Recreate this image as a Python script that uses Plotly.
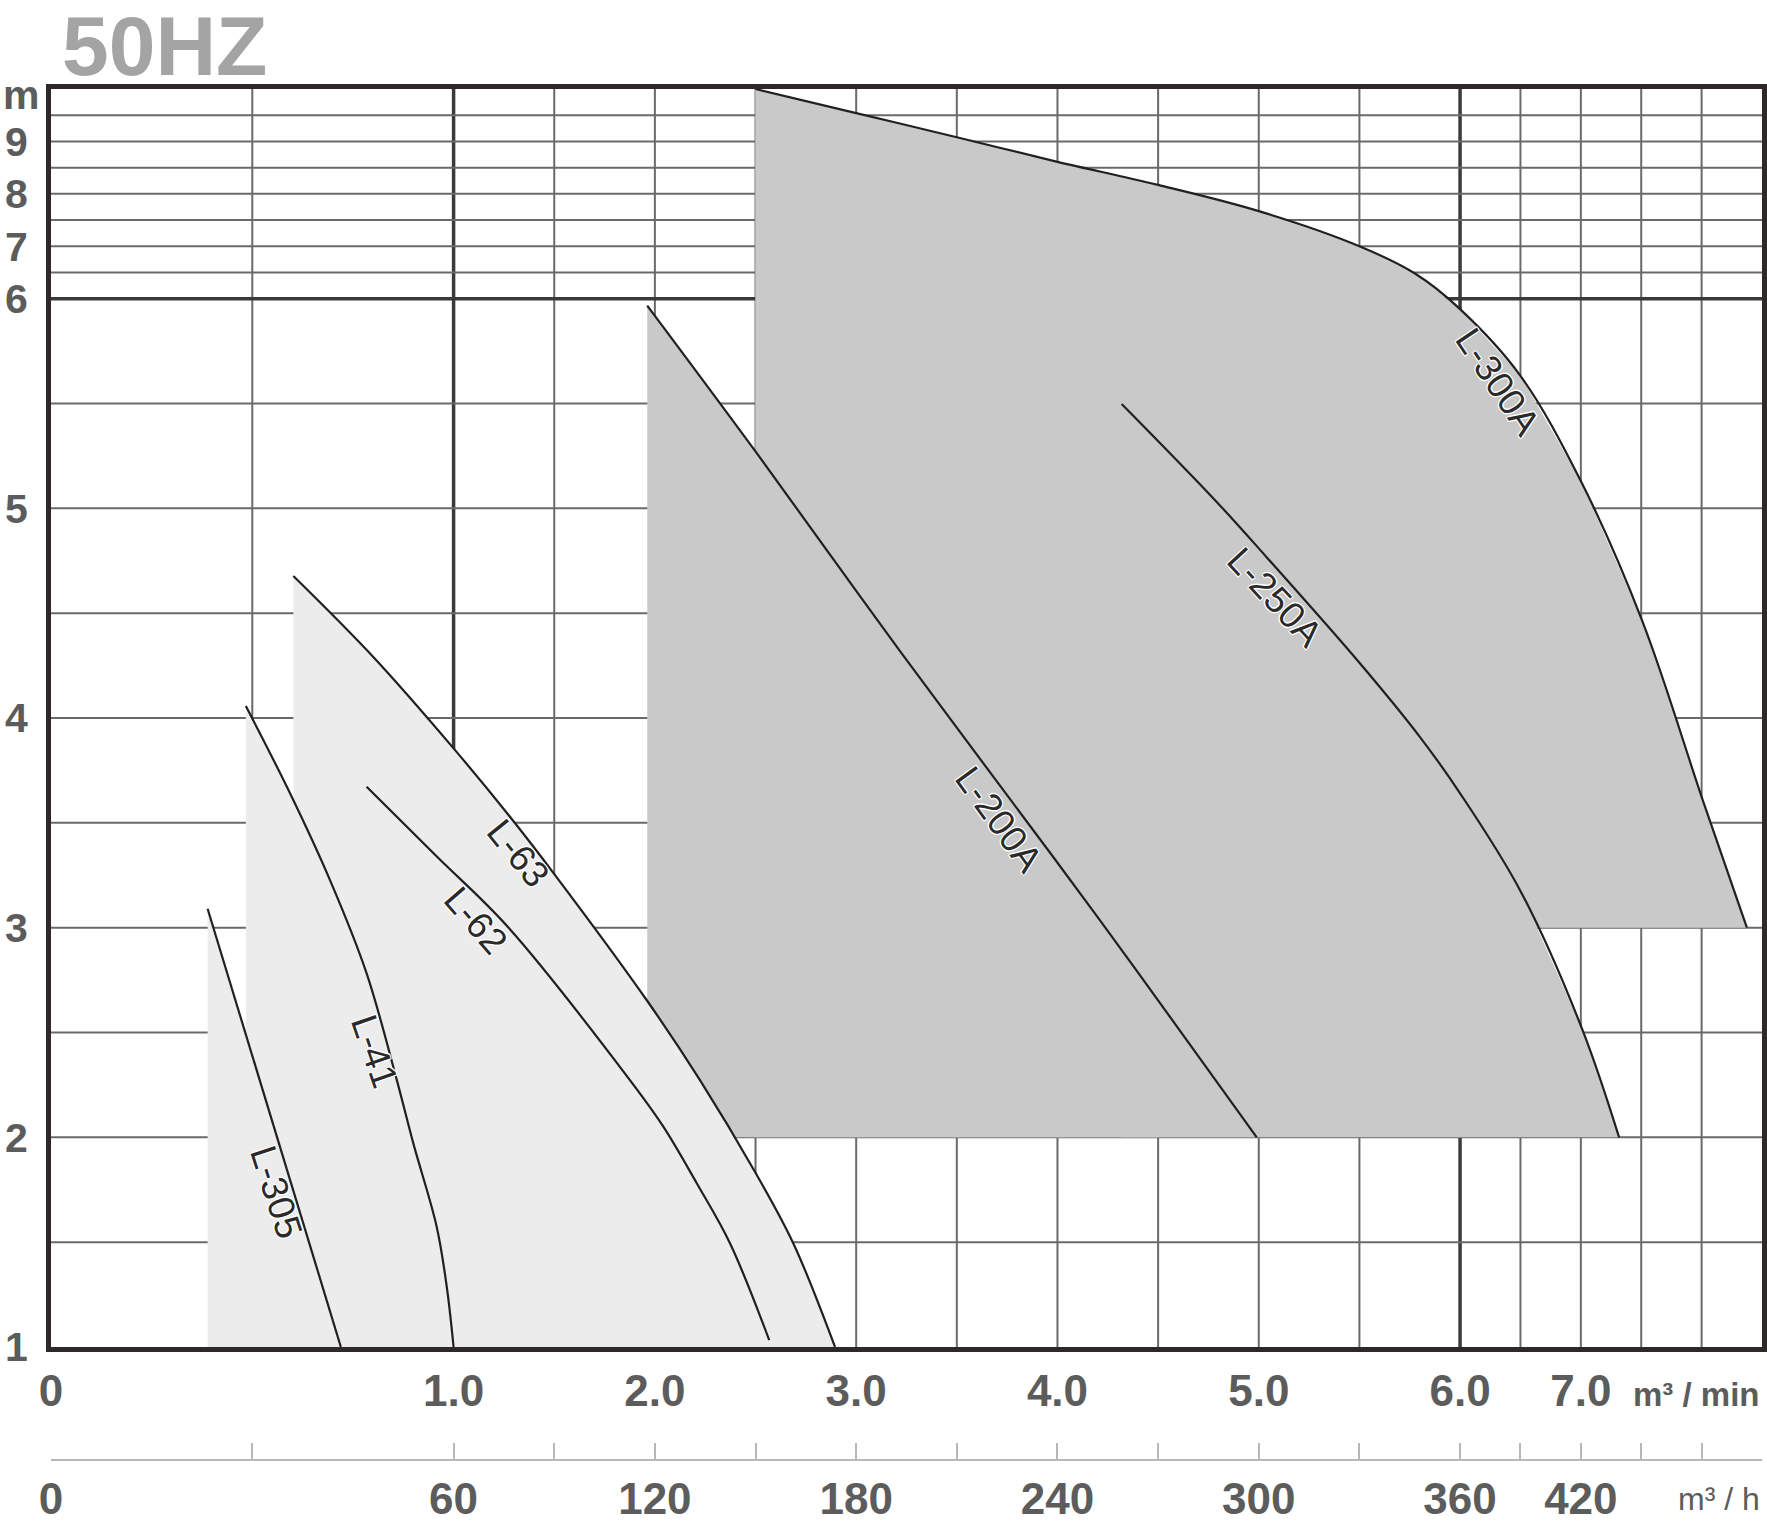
import plotly.graph_objects as go

# ---------------- data (flow Q in m³/min, head H in m) ----------------
L305_Q = [0.389, 0.720]
L305_H = [3.09, 1.00]

L41_Q = [0.484, 0.594, 0.693, 0.784, 0.859, 0.900, 0.958, 0.983, 1.000]
L41_H = [4.057, 3.640, 3.227, 2.782, 2.273, 1.971, 1.574, 1.288, 1.000]

L62_Q = [0.784, 0.959, 1.270, 1.876, 2.042, 2.208, 2.373, 2.568]
L62_H = [3.672, 3.338, 3.003, 2.273, 2.051, 1.781, 1.495, 1.033]

L63_Q = [0.602, 0.800, 1.000, 1.280, 1.504, 1.959, 2.224, 2.497, 2.688, 2.895]
L63_H = [4.677, 4.292, 3.855, 3.529, 3.251, 2.655, 2.273, 1.836, 1.494, 1.000]

L200A_Q = [1.962, 2.497, 3.214, 3.979, 4.377, 4.990]
L200A_H = [5.967, 5.275, 4.324, 3.337, 2.817, 2.000]

L250A_Q = [4.319, 4.783, 5.039, 5.497, 5.801, 6.000, 6.502, 7.008, 7.317]
L250A_H = [5.498, 5.039, 4.767, 4.267, 3.909, 3.641, 3.173, 2.521, 2.000]

L300A_Q = [2.500, 3.000, 3.500, 4.000, 4.500, 5.000, 5.500, 5.780, 6.000, 6.500, 7.000, 7.510, 8.020, 8.375]
L300A_H = [10.00, 9.540, 9.080, 8.610, 8.170, 7.670, 7.000, 6.470, 5.950, 5.632, 5.130, 4.461, 3.590, 3.000]

# lowest head of each shaded operating range
FLOOR_H = {"L-305": 1, "L-41": 1, "L-63": 1, "L-200A": 2, "L-250A": 2, "L-300A": 3}

Q_TICKS = [0, 1.0, 2.0, 3.0, 4.0, 5.0, 6.0, 7.0]
Q_TICK_LABELS = ["0", "1.0", "2.0", "3.0", "4.0", "5.0", "6.0", "7.0"]
QH_TICKS = [0, 60, 120, 180, 240, 300, 360, 420]
QH_TICK_LABELS = ["0", "60", "120", "180", "240", "300", "360", "420"]
H_TICKS = [1, 2, 3, 4, 5, 6, 7, 8, 9]
H_TICK_LABELS = ["1", "2", "3", "4", "5", "6", "7", "8", "9"]
Q_GRID = [0.5, 1.0, 1.5, 2.0, 2.5, 3.0, 3.5, 4.0, 4.5, 5.0, 5.5, 6.0, 6.5, 7.0, 7.5, 8.0]
H_GRID = [1.5, 2, 2.5, 3, 3.5, 4, 4.5, 5, 5.5, 6, 6.5, 7, 7.5, 8, 8.5, 9, 9.5]
Q_MAX, H_MIN, H_MAX = 8.5, 1, 10

# label anchor (Q, H) and text angle for each curve
LABELS = [
    ("L-305", 0.560, 1.738, 72),
    ("L-41", 0.803, 2.408, 71),
    ("L-62", 1.110, 3.036, 49),
    ("L-63", 1.321, 3.354, 51),
    ("L-200A", 3.709, 3.516, 54),
    ("L-250A", 5.081, 4.575, 47),
    ("L-300A", 6.317, 5.602, 56),
]


# ---------------- chart's piecewise scales ----------------
def qx(q):
    if q <= 1:
        return 2 * q
    if q <= 6:
        return q + 1
    return 7 + (q - 6) * 0.6


def hy(h):
    if h <= 6:
        return h
    return 6 + (h - 6) * 0.25


def X(qs):
    return [qx(q) for q in qs]


def Y(hs):
    return [hy(h) for h in hs]


DARK = "#c8c9c8"
LIGHT = "#ececec"
LINE = "#231f20"
GRID = "#6a6a6a"
GRID_BOLD = "#3a3a3a"
TXT = "#5c5c5c"
FONT = "Liberation Sans, Arial, Helvetica, sans-serif"

fig = go.Figure()


def region(qs, hs, floor, color):
    xs = X([qs[0]] + list(qs) + [qs[-1], qs[0]])
    ys = Y([floor] + list(hs) + [floor, floor])
    fig.add_trace(go.Scatter(x=xs, y=ys, mode="lines", fill="toself", fillcolor=color,
                             line=dict(width=0, color=color), hoverinfo="skip", showlegend=False))


# dark ranges
region(L200A_Q, L200A_H, FLOOR_H["L-200A"], DARK)
region(L250A_Q, L250A_H, FLOOR_H["L-250A"], DARK)
region(L300A_Q, L300A_H, FLOOR_H["L-300A"], DARK)
# L-300A range continues down to 2 m until the L-250A range begins
k = next(i for i, q in enumerate(L300A_Q) if q >= L250A_Q[0])
region(L300A_Q[:k + 1], L300A_H[:k + 1], FLOOR_H["L-250A"], DARK)
# light ranges
region(L305_Q, L305_H, FLOOR_H["L-305"], LIGHT)
region(L41_Q, L41_H, FLOOR_H["L-41"], LIGHT)
region(L63_Q, L63_H, FLOOR_H["L-63"], LIGHT)

# curves
for qs, hs in [(L305_Q, L305_H), (L41_Q, L41_H), (L62_Q, L62_H), (L63_Q, L63_H),
               (L200A_Q, L200A_H), (L250A_Q, L250A_H), (L300A_Q, L300A_H)]:
    fig.add_trace(go.Scatter(x=X(qs), y=Y(hs), mode="lines",
                             line=dict(color=LINE, width=2.2, shape="spline", smoothing=1.0),
                             hoverinfo="skip", showlegend=False))

# invisible trace so the m³/h axis is drawn
fig.add_trace(go.Scatter(x=[0, qx(Q_MAX)], y=[1, 1], xaxis="x2", mode="markers",
                         marker=dict(opacity=0), hoverinfo="skip", showlegend=False))

shapes = []
for q in Q_GRID:
    bold = q in (1.0, 6.0)
    shapes.append(dict(type="line", xref="x", yref="y domain", x0=qx(q), x1=qx(q), y0=0, y1=1,
                       layer="below", line=dict(color=GRID_BOLD if bold else GRID, width=3.5 if bold else 2)))
for h in H_GRID:
    bold = h == 6
    shapes.append(dict(type="line", xref="x domain", yref="y", x0=0, x1=1, y0=hy(h), y1=hy(h),
                       layer="below", line=dict(color=GRID_BOLD if bold else GRID, width=3.5 if bold else 2)))

annotations = []
for text, q, h, ang in LABELS:
    annotations.append(dict(x=qx(q), y=hy(h), xref="x", yref="y", text=text, showarrow=False,
                            textangle=ang, xanchor="center", yanchor="middle",
                            font=dict(family=FONT, size=37, color="#2a2a2a",
                                      shadow="1px 1px 0 #fff, -1px -1px 0 #fff, 1px -1px 0 #fff, -1px 1px 0 #fff, 0 0 2px #fff")))

W, Hh = 1767, 1522
ML, MR, MT, MB = 51, 5, 89, 62
PW, PH = W - ML - MR, Hh - MT - MB


def px(xp):
    return (xp - ML) / PW


def py(yp):
    return (Hh - MB - yp) / PH


annotations += [
    dict(xref="paper", yref="paper", x=px(60), y=py(46), xanchor="left", yanchor="middle",
         text="50HZ", showarrow=False,
         font=dict(family=FONT, size=84, color="#a4a4a4", weight="bold")),
    dict(xref="paper", yref="paper", x=px(1), y=py(95), xanchor="left", yanchor="middle",
         text="m", showarrow=False, font=dict(family=FONT, size=41, color=TXT, weight="bold")),
    dict(xref="paper", yref="paper", x=1, y=py(1394), xanchor="right", yanchor="middle",
         text="m³ / min", showarrow=False, font=dict(family=FONT, size=33, color=TXT, weight="bold")),
    dict(xref="paper", yref="paper", x=1, y=py(1499), xanchor="right", yanchor="middle",
         text="m³ / h", showarrow=False, font=dict(family=FONT, size=32, color=TXT)),
]

# m³/h axis ticks at every grid position, labels at the QH ticks
x2_pos = [0] + Q_GRID + [Q_MAX]
x2_text = []
for q in x2_pos:
    lab = ""
    for v, t in zip(QH_TICKS, QH_TICK_LABELS):
        if abs(v / 60 - q) < 1e-9:
            lab = t
    x2_text.append(lab)

fig.update_layout(
    width=W, height=Hh,
    margin=dict(l=ML, r=MR, t=MT, b=MB, pad=0),
    paper_bgcolor="white", plot_bgcolor="white",
    showlegend=False,
    shapes=shapes, annotations=annotations,
    xaxis=dict(range=[0, qx(Q_MAX)], tickvals=X(Q_TICKS), ticktext=Q_TICK_LABELS, ticks="",
               showgrid=False, zeroline=False, showline=True, mirror=True, linewidth=5,
               linecolor="#2d2928", ticklabelstandoff=1, automargin=False,
               tickfont=dict(family=FONT, size=44, color=TXT, weight="bold")),
    xaxis2=dict(range=[0, qx(Q_MAX)], overlaying="x", anchor="free", position=0, side="bottom",
                tickvals=X(x2_pos), ticktext=x2_text, ticks="inside", ticklen=16, tickwidth=2,
                tickcolor="#b8b8b8", showline=True, linecolor="#b8b8b8", linewidth=2,
                showgrid=False, zeroline=False, ticklabelstandoff=0, automargin=False,
                tickfont=dict(family=FONT, size=44, color=TXT, weight="bold")),
    yaxis=dict(domain=[(Hh - MB - 1347) / PH, 1], range=[hy(H_MIN), hy(H_MAX)],
               tickvals=Y(H_TICKS), ticktext=H_TICK_LABELS, ticks="",
               showgrid=False, zeroline=False, showline=True, mirror=True, linewidth=5,
               linecolor="#2d2928", ticklabelstandoff=10, automargin=False,
               tickfont=dict(family=FONT, size=41, color=TXT, weight="bold")),
)

fig.write_html("out.html", config={"displayModeBar": False},
               post_script="document.body.style.margin='0';")
